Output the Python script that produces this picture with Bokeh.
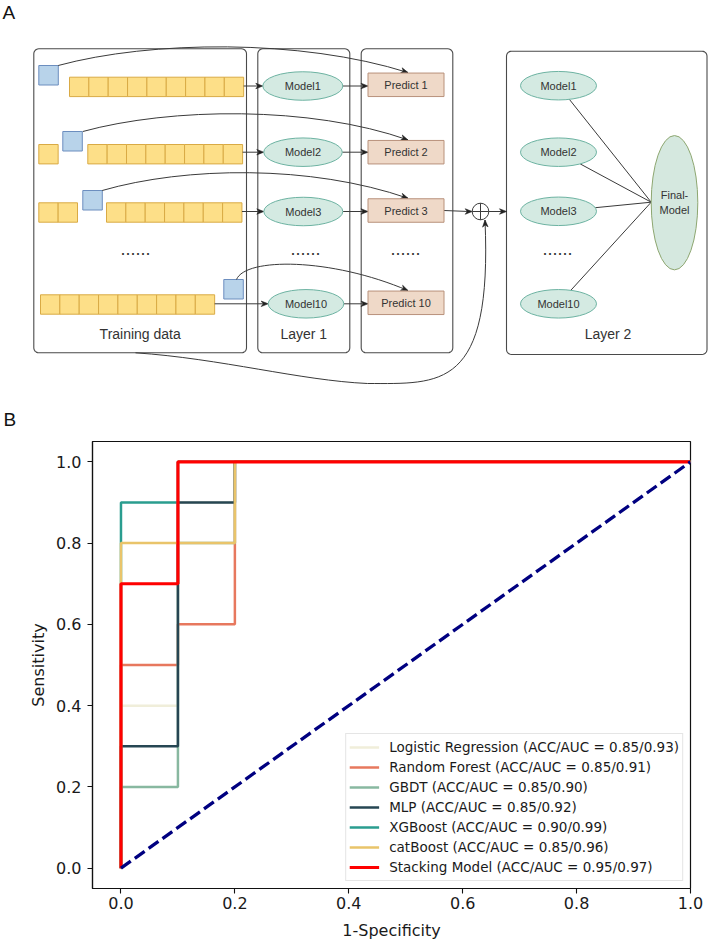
from math import hypot, cos, sin, pi
from bokeh.plotting import figure
from bokeh.models import Range1d, FixedTicker, PrintfTickFormatter, Legend, LegendItem
from bokeh.core.properties import value
from bokeh.embed import file_html
from bokeh.resources import INLINE

# ---------------- data ----------------
# Panel A (diagram labels)
fold_rows = ["1", "2", "3", "10"]
left_cells = [0, 1, 2, 9]          # yellow cells before the held-out fold
right_cells = [9, 8, 7, 0]         # yellow cells after the held-out fold
layer1_models = ["Model1", "Model2", "Model3", "Model10"]
predict_labels = ["Predict 1", "Predict 2", "Predict 3", "Predict 10"]
layer2_models = ["Model1", "Model2", "Model3", "Model10"]
final_label = ["Final-", "Model"]
box_titles = ["Training data", "Layer 1", "Layer 2"]

# Panel B (ROC curves)
series_names = ["Logistic Regression", "Random Forest", "GBDT", "MLP",
                "XGBoost", "catBoost", "Stacking Model"]
acc = [0.85, 0.85, 0.85, 0.85, 0.90, 0.85, 0.95]
auc = [0.93, 0.91, 0.90, 0.92, 0.99, 0.96, 0.97]
fpr_lr = [0, 0, 0.1, 0.1, 0.2, 0.2, 1.0]
tpr_lr = [0, 0.4, 0.4, 0.9, 0.9, 1.0, 1.0]
fpr_rf = [0, 0, 0.1, 0.1, 0.2, 0.2, 1.0]
tpr_rf = [0, 0.5, 0.5, 0.6, 0.6, 1.0, 1.0]
fpr_gbdt = [0, 0, 0.1, 0.1, 0.2, 0.2, 1.0]
tpr_gbdt = [0, 0.2, 0.2, 0.8, 0.8, 1.0, 1.0]
fpr_mlp = [0, 0, 0.1, 0.1, 0.2, 0.2, 1.0]
tpr_mlp = [0, 0.3, 0.3, 0.9, 0.9, 1.0, 1.0]
fpr_xgb = [0, 0, 0.1, 0.1, 1.0]
tpr_xgb = [0, 0.9, 0.9, 1.0, 1.0]
fpr_cat = [0, 0, 0.2, 0.2, 1.0]
tpr_cat = [0, 0.8, 0.8, 1.0, 1.0]
fpr_stack = [0, 0, 0.1, 0.1, 1.0]
tpr_stack = [0, 0.7, 0.7, 1.0, 1.0]
diag_x = [0, 1]
diag_y = [0, 1]
ticks = [0.0, 0.2, 0.4, 0.6, 0.8, 1.0]

colors = ["#F0EEDA", "#E7785E", "#88B8A0", "#264653", "#2A9D8F", "#E9C46A", "#FF0000"]
widths = [2.5, 2.5, 2.5, 2.5, 2.5, 2.5, 3.2]

# ---------------- helpers ----------------
DIAG_FONT = value("Liberation Sans")
TXT = "#333333"
EDGE = "#3a3a3a"


def rrect(x0, y0, x1, y1, r, n=6):
    xs, ys = [], []
    corners = [(x1 - r, y0 + r, -pi / 2), (x1 - r, y1 - r, 0.0),
               (x0 + r, y1 - r, pi / 2), (x0 + r, y0 + r, pi)]
    for cx, cy, a0 in corners:
        for k in range(n + 1):
            a = a0 + (pi / 2) * k / n
            xs.append(cx + r * cos(a))
            ys.append(cy + r * sin(a))
    return xs, ys


def head(tx, ty, dx, dy, L=7.0, W=5.5):
    n = hypot(dx, dy)
    ux, uy = dx / n, dy / n
    px, py = -uy, ux
    bx, by = tx - ux * L, ty - uy * L
    nx, ny = tx - ux * L * 0.7, ty - uy * L * 0.7
    return ([tx, bx + px * W / 2, nx, bx - px * W / 2],
            [ty, by + py * W / 2, ny, by - py * W / 2])


def ellipse_edge(cx, cy, a, b, tx, ty):
    dx, dy = tx - cx, ty - cy
    t = 1.0 / ((dx / a) ** 2 + (dy / b) ** 2) ** 0.5
    return cx + t * dx, cy + t * dy


# ---------------- Panel A ----------------
pa = figure(width=709, height=430, x_range=Range1d(0, 709), y_range=Range1d(430, 0),
            output_backend="svg", toolbar_location=None, min_border=0,
            x_axis_type=None, y_axis_type=None, outline_line_color=None)
pa.grid.visible = False

# container boxes
cont = [(33.3, 48.3, 246, 352.3), (257.3, 48.3, 349.3, 352.3),
        (360.7, 48.3, 452.3, 352.3), (506, 50.7, 706.5, 354)]
cxs, cys = [], []
for b in cont:
    xs, ys = rrect(*b, r=5)
    cxs.append(xs)
    cys.append(ys)
pa.patches(cxs, cys, fill_color=None, line_color="#4a4a4a", line_width=1.1)

# rows of folds
cw, ch = 19.35, 19.4
cell_top = [76.7, 144.0, 202.3, 294.3]
left_start = [38.3, 38.3, 38.3, 40.0]
blue_x = [38.3, 62.3, 82.3, 223.3]
blue_top = [65.0, 131.0, 190.0, 279.0]
right_start = [69.0, 87.3, 106.0, 0.0]
yl, yr, yt, yb = [], [], [], []
for i in range(len(fold_rows)):
    for k in range(left_cells[i]):
        yl.append(left_start[i] + k * cw); yr.append(left_start[i] + (k + 1) * cw)
        yt.append(cell_top[i]); yb.append(cell_top[i] + ch)
    for k in range(right_cells[i]):
        yl.append(right_start[i] + k * cw); yr.append(right_start[i] + (k + 1) * cw)
        yt.append(cell_top[i]); yb.append(cell_top[i] + ch)
pa.quad(left=yl, right=yr, top=yt, bottom=yb, fill_color="#FDDF88",
        line_color="#D9AA45", line_width=1)
pa.quad(left=blue_x, right=[x + 19.5 for x in blue_x], top=blue_top,
        bottom=[y + 19.5 for y in blue_top], fill_color="#B8D3EA",
        line_color="#6C8EBF", line_width=1)

# layer-1 ellipses and predict boxes
m1_cx = [302.3, 302.5, 302.8, 305.5]
m1_cy = [85.5, 151.7, 211.0, 303.3]
m1_w = [80.0, 78.5, 79.0, 75.6]
mh = 28.5
pr_x0, pr_x1, pr_h = 367.5, 443.5, 23.5
pr_cy = [84.3, 151.7, 210.0, 302.3]

heads_x, heads_y = [], []
sx0, sy0, sx1, sy1 = [], [], [], []
for i in range(len(fold_rows)):
    if right_cells[i] > 0:
        x_end = right_start[i] + right_cells[i] * cw
    else:
        x_end = left_start[i] + left_cells[i] * cw
    tipx = m1_cx[i] - m1_w[i] / 2
    sx0.append(x_end); sy0.append(m1_cy[i]); sx1.append(tipx - 3); sy1.append(m1_cy[i])
    hx, hy = head(tipx, m1_cy[i], 1, 0); heads_x.append(hx); heads_y.append(hy)
    sx0.append(m1_cx[i] + m1_w[i] / 2); sy0.append(m1_cy[i]); sx1.append(pr_x0 - 3); sy1.append(m1_cy[i])
    hx, hy = head(pr_x0, m1_cy[i], 1, 0); heads_x.append(hx); heads_y.append(hy)

# predict 3 -> plus -> layer 2
plus_x, plus_y, plus_r = 480.0, 211.0, 8.3
sx0 += [pr_x1, plus_x + plus_r]; sy0 += [pr_cy[2], plus_y]
sx1 += [plus_x - plus_r - 3, 503]; sy1 += [plus_y, plus_y]
for tx in (plus_x - plus_r, 506.0):
    hx, hy = head(tx, plus_y, 1, 0); heads_x.append(hx); heads_y.append(hy)

# layer-2 ellipse -> final model
m2_cx, m2_w = 558.0, 76.0
m2_cy = [85.2, 151.7, 210.8, 303.3]
fin_cx, fin_cy, fin_w, fin_h = 674.0, 202.2, 46.6, 134.3
conv_x, conv_y = fin_cx - fin_w / 2, 201.7
for cy in m2_cy:
    ex, ey = ellipse_edge(m2_cx, cy, m2_w / 2, mh / 2, conv_x, conv_y)
    sx0.append(ex); sy0.append(ey); sx1.append(conv_x); sy1.append(conv_y)
pa.segment(sx0, sy0, sx1, sy1, line_color=EDGE, line_width=1)

# curved arrows (held-out fold -> predictions)
bz_x0 = [57.7, 82.3, 101.7, 236.0]
bz_y0 = [65.0, 131.0, 190.0, 279.0]
bz_cx0 = [150.0, 170.0, 185.0, 245.0]
bz_cy0 = [40.0, 107.0, 166.0, 257.0]
bz_cx1 = [300.0, 310.0, 310.0, 330.0]
bz_cy1 = [38.0, 105.0, 164.0, 257.0]
bz_x1 = [407.5] * 4
bz_y1 = [pc - pr_h / 2 - 0.5 for pc in pr_cy]
# bottom curve training data -> plus
bz_x0 += [135.0, 367.0]; bz_y0 += [352.3, 383.0]
bz_cx0 += [220.0, 440.0]; bz_cy0 += [358.0, 383.0]
bz_cx1 += [300.0, 492.0]; bz_cy1 += [380.0, 390.0]
bz_x1 += [367.0, 484.5]; bz_y1 += [383.0, 219.5]
pa.bezier(x0=bz_x0, y0=bz_y0, x1=bz_x1, y1=bz_y1, cx0=bz_cx0, cy0=bz_cy0,
          cx1=bz_cx1, cy1=bz_cy1, line_color=EDGE, line_width=1)
for j in [0, 1, 2, 3, 5]:
    hx, hy = head(bz_x1[j], bz_y1[j], bz_x1[j] - bz_cx1[j], bz_y1[j] - bz_cy1[j])
    heads_x.append(hx); heads_y.append(hy)
pa.patches(heads_x, heads_y, fill_color="#222222", line_color="#222222", line_width=0.6)

# shapes on top
pa.ellipse(x=m1_cx, y=m1_cy, width=m1_w, height=mh, fill_color="#D4EAE2",
           line_color="#6DB3A2", line_width=1)
pa.quad(left=[pr_x0] * 4, right=[pr_x1] * 4, top=[c - pr_h / 2 for c in pr_cy],
        bottom=[c + pr_h / 2 for c in pr_cy], fill_color="#EFD9C8",
        line_color="#B8917B", line_width=1)
pa.ellipse(x=[m2_cx] * 4, y=m2_cy, width=m2_w, height=mh, fill_color="#D4EAE2",
           line_color="#6DB3A2", line_width=1)
pa.ellipse(x=[fin_cx], y=[fin_cy], width=fin_w, height=fin_h, fill_color="#D5E8DF",
           line_color="#8DA670", line_width=1)
pa.circle(x=[plus_x], y=[plus_y], radius=plus_r, fill_color="white",
          line_color=EDGE, line_width=1)
pa.segment(x0=[plus_x - plus_r, plus_x], y0=[plus_y, plus_y - plus_r],
           x1=[plus_x + plus_r, plus_x], y1=[plus_y, plus_y + plus_r],
           line_color=EDGE, line_width=1)

# texts
common = dict(text_font=DIAG_FONT, text_color=TXT, text_align="center", text_baseline="middle")
pa.text(x=m1_cx, y=m1_cy, text=layer1_models, text_font_size="11px", **common)
pa.text(x=[(pr_x0 + pr_x1) / 2] * 4, y=pr_cy, text=predict_labels, text_font_size="11px", **common)
pa.text(x=[m2_cx] * 4, y=m2_cy, text=layer2_models, text_font_size="11px", **common)
pa.text(x=[fin_cx, fin_cx], y=[194.3, 209.3], text=final_label, text_font_size="11px", **common)
pa.text(x=[139.7, 303.3, 607.5], y=[333.3, 333.3, 333.3], text=box_titles,
        text_font_size="14px", **common)
pa.text(x=[135, 305, 405, 557], y=[248.0] * 4, text=["......"] * 4, text_font=DIAG_FONT,
        text_color=TXT, text_align="center", text_baseline="middle", text_font_size="18px")
pa.text(x=[2, 3], y=[12.0, 419.0], text=["A", "B"], text_font=DIAG_FONT, text_color="#111111",
        text_align="left", text_baseline="middle", text_font_size="19px")

# ---------------- Panel B ----------------
pb = figure(width=709, height=514, x_range=Range1d(-0.05, 1.0), y_range=Range1d(-0.05, 1.05),
            output_backend="svg", toolbar_location=None, min_border_left=92,
            min_border_right=19, min_border_top=11, min_border_bottom=56)
pb.grid.visible = False
pb.outline_line_color = "#111111"
pb.outline_line_width = 1.2
pb.outline_line_alpha = 1.0
for ax in (pb.xaxis[0], pb.yaxis[0]):
    ax.ticker = FixedTicker(ticks=ticks, minor_ticks=[])
    ax.formatter = PrintfTickFormatter(format="%.1f")
    ax.major_label_text_font = "DejaVu Sans"
    ax.major_label_text_font_size = "16px"
    ax.major_label_text_color = "#1a1a1a"
    ax.axis_label_text_font = "DejaVu Sans"
    ax.axis_label_text_font_size = "16px"
    ax.axis_label_text_font_style = "normal"
    ax.axis_label_text_color = "#1a1a1a"
    ax.axis_line_color = "#111111"
    ax.axis_line_width = 1.2
    ax.major_tick_line_color = "#111111"
    ax.major_tick_line_width = 1.1
    ax.major_tick_out = 5
    ax.major_tick_in = 0
    ax.minor_tick_line_color = None
pb.xaxis.axis_label = "1-Specificity"
pb.yaxis.axis_label = "Sensitivity"
pb.xaxis.major_label_standoff = 3
pb.xaxis.axis_label_standoff = 9
pb.yaxis.major_label_standoff = 6
pb.yaxis.axis_label_standoff = 5

fprs = [fpr_lr, fpr_rf, fpr_gbdt, fpr_mlp, fpr_xgb, fpr_cat, fpr_stack]
tprs = [tpr_lr, tpr_rf, tpr_gbdt, tpr_mlp, tpr_xgb, tpr_cat, tpr_stack]
items = []
for i in range(len(series_names)):
    r = pb.line(fprs[i], tprs[i], line_color=colors[i], line_width=widths[i])
    label = f"{series_names[i]} (ACC/AUC = {acc[i]:.2f}/{auc[i]:.2f})"
    items.append(LegendItem(label=label, renderers=[r]))
pb.line(diag_x, diag_y, line_color="#000080", line_width=3.3, line_dash="12 5")

legend = Legend(items=items, location="bottom_right", label_text_font="DejaVu Sans",
                label_text_font_size="13.5px", label_text_color="#1a1a1a",
                glyph_width=30, glyph_height=20, label_height=20, spacing=0,
                padding=3, margin=7, label_standoff=10,
                border_line_color="#cccccc", border_line_width=1,
                background_fill_color="white", background_fill_alpha=0.85)
pb.add_layout(legend)

open("out.html", "w").write(file_html([pa, pb], INLINE))
